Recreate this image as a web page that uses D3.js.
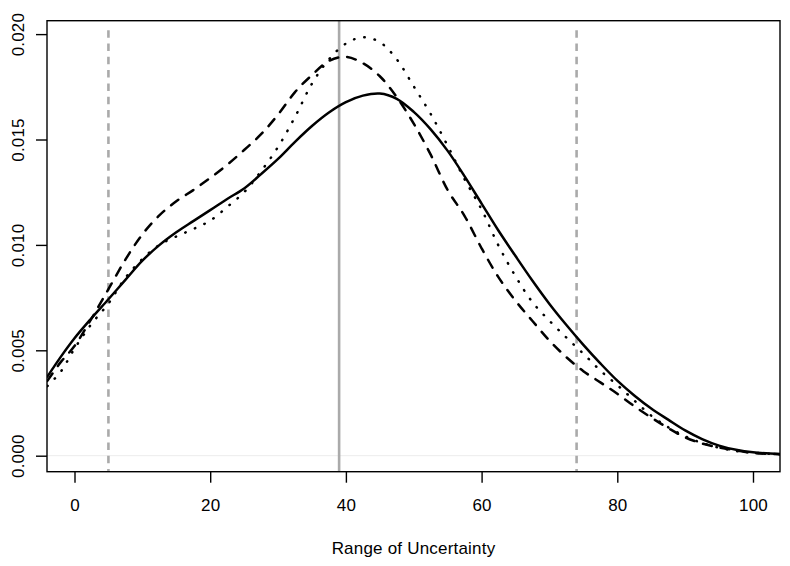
<!DOCTYPE html>
<html>
<head>
<meta charset="utf-8">
<script src="https://cdn.jsdelivr.net/npm/d3@7"></script>
<style>
    body { margin: 0; background: #fff; }
    svg { display: block; font-family: "Liberation Sans", Arial, sans-serif; }
</style>
</head>
<body>
<script>
//x grid the three density curves were read at
var xs = [-4, -2, 0, 2.5, 5, 7.5, 10, 12.5, 15, 17.5, 20, 22.5, 25, 27.5, 30, 32.5, 35, 37.5,
    40, 42.5, 45, 47.5, 50, 52.5, 55, 57.5, 60, 62.5, 65, 67.5, 70, 72.5, 75, 77.5, 80, 82.5,
    85, 87.5, 90, 92.5, 95, 97.5, 100, 104];

//solid curve
var solid = [0.00375, 0.00470, 0.00557, 0.00652, 0.00742, 0.00834, 0.00925, 0.00999, 0.01060,
    0.01113, 0.01165, 0.01218, 0.01268, 0.01336, 0.01408, 0.01489, 0.01564, 0.01628, 0.01677,
    0.01708, 0.01718, 0.01693, 0.01631, 0.01548, 0.01446, 0.01325, 0.01196, 0.01067, 0.00947,
    0.00830, 0.00720, 0.00620, 0.00526, 0.00438, 0.00356, 0.00286, 0.00224, 0.00171, 0.00120,
    0.00079, 0.00048, 0.00028, 0.00016, 0.00008];

//dashed curve
var dashed = [0.00355, 0.00445, 0.00520, 0.00650, 0.00790, 0.00930, 0.01050, 0.01140, 0.01207,
    0.01260, 0.01318, 0.01380, 0.01450, 0.01525, 0.01618, 0.01725, 0.01806, 0.01873, 0.01892,
    0.01862, 0.01800, 0.01701, 0.01575, 0.01428, 0.01260, 0.01137, 0.00984, 0.00846, 0.00735,
    0.00639, 0.00546, 0.00467, 0.00401, 0.00348, 0.00294, 0.00235, 0.00181, 0.00131, 0.00087,
    0.00058, 0.00039, 0.00025, 0.00013, 0.00007];

//dotted curve
var dotted = [0.00330, 0.00400, 0.00508, 0.00625, 0.00722, 0.00844, 0.00933, 0.01000, 0.01040,
    0.01075, 0.01115, 0.01180, 0.01250, 0.01350, 0.01465, 0.01607, 0.01765, 0.01880, 0.01955,
    0.01985, 0.01962, 0.01880, 0.01752, 0.01621, 0.01470, 0.01311, 0.01168, 0.00996, 0.00851,
    0.00728, 0.00640, 0.00560, 0.00484, 0.00404, 0.00335, 0.00262, 0.00190, 0.00135, 0.00092,
    0.00060, 0.00038, 0.00022, 0.00014, 0.00007];

//reference lines
var dashedRefs = [5, 74];
var solidRefs = [39];

//tick values
var xTicks = [0, 20, 40, 60, 80, 100];
var yTicks = [0, 0.005, 0.010, 0.015, 0.020];

var xTitle = "Range of Uncertainty";

window.onload = drawChart();

function drawChart(){

    var width = 790,
        height = 566;

    //plot box edges
    var left = 47, right = 780, top = 20.7, bottom = 471.7;

    var svg = d3.select("body")
        .append("svg")
        .attr("width", width)
        .attr("height", height);

    var x = d3.scaleLinear()
        .domain([-4.053, 103.98])
        .range([left, right]);

    var y = d3.scaleLinear()
        .domain([-0.000759, 0.020636])
        .range([bottom, top]);

    //clip everything inside the box
    svg.append("clipPath")
        .attr("id", "plotClip")
        .append("rect")
        .attr("x", left)
        .attr("y", top)
        .attr("width", right - left)
        .attr("height", bottom - top);

    var plot = svg.append("g")
        .attr("clip-path", "url(#plotClip)");

    //faint zero line
    plot.append("line")
        .attr("x1", left)
        .attr("x2", right)
        .attr("y1", y(0))
        .attr("y2", y(0))
        .attr("stroke", "#ececec")
        .attr("stroke-width", 1);

    //gray dashed verticals
    plot.selectAll(".dashRef")
        .data(dashedRefs)
        .enter()
        .append("line")
        .attr("class", "dashRef")
        .attr("x1", function(d){ return x(d); })
        .attr("x2", function(d){ return x(d); })
        .attr("y1", top + 9.5)
        .attr("y2", bottom)
        .attr("stroke", "#aaaaaa")
        .attr("stroke-width", 2.6)
        .attr("stroke-dasharray", "7.5,5.8");

    //gray solid vertical
    plot.selectAll(".solidRef")
        .data(solidRefs)
        .enter()
        .append("line")
        .attr("class", "solidRef")
        .attr("x1", function(d){ return x(d); })
        .attr("x2", function(d){ return x(d); })
        .attr("y1", top)
        .attr("y2", bottom)
        .attr("stroke", "#aaaaaa")
        .attr("stroke-width", 2.6);

    var line = d3.line()
        .x(function(d){ return x(d[0]); })
        .y(function(d){ return y(d[1]); })
        .curve(d3.curveCatmullRom.alpha(0.5));

    var series = [
        { values: solid, dash: null },
        { values: dashed, dash: "9,9" },
        { values: dotted, dash: "0.5,10" }
    ];

    plot.selectAll(".curve")
        .data(series)
        .enter()
        .append("path")
        .attr("class", "curve")
        .attr("d", function(s){
            return line(xs.map(function(v, i){ return [v, s.values[i]]; }));
        })
        .attr("fill", "none")
        .attr("stroke", "#000")
        .attr("stroke-width", 2.5)
        .attr("stroke-linecap", "round")
        .attr("stroke-dasharray", function(s){ return s.dash; });

    //box
    svg.append("rect")
        .attr("x", left)
        .attr("y", top)
        .attr("width", right - left)
        .attr("height", bottom - top)
        .attr("fill", "none")
        .attr("stroke", "#000")
        .attr("stroke-width", 1.4);

    //x axis
    var xAxis = svg.append("g")
        .attr("transform", "translate(0," + bottom + ")")
        .call(d3.axisBottom(x)
            .tickValues(xTicks)
            .tickSize(11)
            .tickFormat(d3.format("d")));

    xAxis.select(".domain").remove();
    xAxis.selectAll("line")
        .attr("stroke", "#000")
        .attr("stroke-width", 1.4);
    xAxis.selectAll("text")
        .attr("y", 39.5)
        .attr("dy", 0)
        .attr("fill", "#000")
        .style("font-size", "17px")
        .style("letter-spacing", "0.2px")
        .style("font-family", "'Liberation Sans', Arial, sans-serif");

    //y axis
    var yAxis = svg.append("g")
        .attr("transform", "translate(" + left + ",0)")
        .call(d3.axisLeft(y)
            .tickValues(yTicks)
            .tickSize(11)
            .tickFormat(d3.format(".3f")));

    yAxis.select(".domain").remove();
    yAxis.selectAll("line")
        .attr("stroke", "#000")
        .attr("stroke-width", 1.4);
    yAxis.selectAll("text")
        .attr("x", 0)
        .attr("y", 0)
        .attr("dy", 0)
        .attr("transform", "translate(-23,0) rotate(-90)")
        .attr("fill", "#000")
        .style("text-anchor", "middle")
        .style("font-size", "17px")
        .style("letter-spacing", "0.2px")
        .style("font-family", "'Liberation Sans', Arial, sans-serif");

    //axis title
    svg.append("text")
        .attr("x", (left + right) / 2)
        .attr("y", 554)
        .attr("text-anchor", "middle")
        .style("font-size", "17px")
        .style("letter-spacing", "0.2px")
        .text(xTitle);
};
</script>
</body>
</html>
